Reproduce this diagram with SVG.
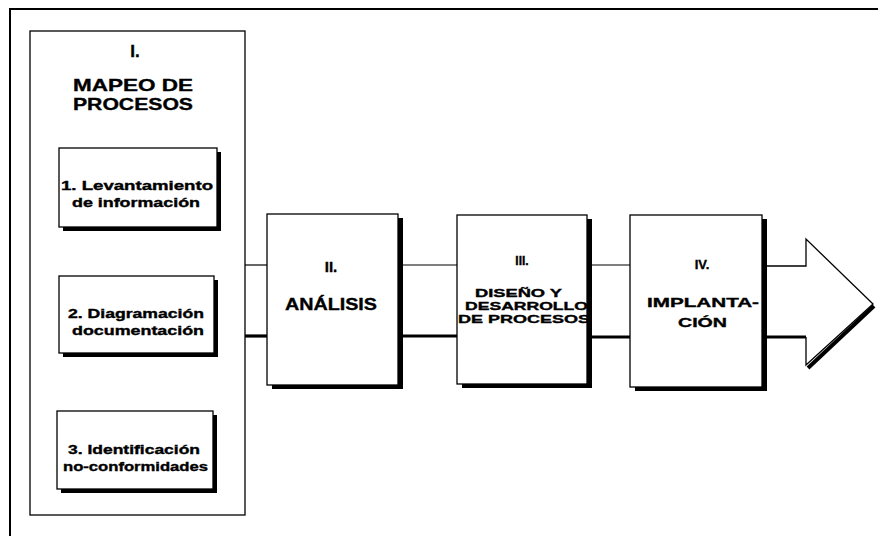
<svg xmlns="http://www.w3.org/2000/svg" width="878" height="536" viewBox="0 0 878 536">
<style>
.box{fill:#fff;stroke:#000;stroke-width:1.3}
.sh{fill:#000}
.t{font-family:"Liberation Sans",Arial,sans-serif;font-weight:bold;fill:#000;stroke:#000;stroke-width:0.35}
.thin{stroke:#000;stroke-width:1.2;fill:none}
.thick{stroke:#000;stroke-width:3.2;fill:none}
</style>
<rect width="878" height="536" fill="#fff"/>
<path d="M10,536 V9 H878" fill="none" stroke="#000" stroke-width="2"/>

<g id="connectors">
  <line class="thin" x1="245" y1="265" x2="267" y2="265"/>
  <line class="thin" x1="403" y1="265" x2="457" y2="265"/>
  <line class="thin" x1="592" y1="265" x2="630" y2="265"/>
  <line class="thick" x1="245" y1="336" x2="267" y2="336"/>
  <line class="thick" x1="403" y1="336" x2="457" y2="336"/>
  <line class="thick" x1="592" y1="337" x2="630" y2="337"/>
  <g id="arrow-head">
    <line x1="874" y1="306" x2="808" y2="368" stroke="#000" stroke-width="4"/>
    <path d="M767,266 H806 V239 L873,304 L806,365 V337" fill="#fff" stroke="#000" stroke-width="1.3"/>
    <line class="thick" x1="767" y1="337" x2="806" y2="337"/>
  </g>
</g>

<g id="node-I">
  <rect class="box" x="30" y="31" width="215" height="484"/>
  <text class="t" x="135" y="57" font-size="17" text-anchor="middle">I.</text>
  <text class="t" x="73" y="91" font-size="16.5" textLength="120" lengthAdjust="spacingAndGlyphs">MAPEO DE</text>
  <text class="t" x="73" y="110" font-size="16.5" textLength="120" lengthAdjust="spacingAndGlyphs">PROCESOS</text>
</g>

<g id="node-1">
  <rect class="sh" x="63" y="152" width="158" height="79"/>
  <rect class="box" x="59" y="148" width="158" height="79"/>
  <text class="t" x="61" y="190" font-size="12" textLength="152" lengthAdjust="spacingAndGlyphs">1. Levantamiento</text>
  <text class="t" x="72" y="207" font-size="12" textLength="128" lengthAdjust="spacingAndGlyphs">de información</text>
</g>

<g id="node-2">
  <rect class="sh" x="63" y="280" width="155" height="77"/>
  <rect class="box" x="59" y="276" width="155" height="77"/>
  <text class="t" x="68" y="318" font-size="12" textLength="136" lengthAdjust="spacingAndGlyphs">2. Diagramación</text>
  <text class="t" x="72" y="335" font-size="12" textLength="132" lengthAdjust="spacingAndGlyphs">documentación</text>
</g>

<g id="node-3">
  <rect class="sh" x="61" y="415" width="156" height="78"/>
  <rect class="box" x="57" y="411" width="156" height="78"/>
  <text class="t" x="68" y="454" font-size="12" textLength="132" lengthAdjust="spacingAndGlyphs">3. Identificación</text>
  <text class="t" x="63" y="471" font-size="12" textLength="145" lengthAdjust="spacingAndGlyphs">no-conformidades</text>
</g>

<g id="node-II">
  <rect class="sh" x="272" y="218" width="131" height="171"/>
  <rect class="box" x="267" y="214" width="131" height="171"/>
  <text class="t" x="331" y="272" font-size="15" text-anchor="middle">II.</text>
  <text class="t" x="285" y="310" font-size="16" textLength="92" lengthAdjust="spacingAndGlyphs">ANÁLISIS</text>
</g>

<g id="node-III">
  <rect class="sh" x="462" y="219" width="130" height="169"/>
  <rect class="box" x="457" y="215" width="130" height="169"/>
  <text class="t" x="522" y="265" font-size="12" text-anchor="middle">III.</text>
  <text class="t" x="475" y="297" font-size="11.5" textLength="87" lengthAdjust="spacingAndGlyphs">DISEÑO Y</text>
  <text class="t" x="465" y="310" font-size="11.5" textLength="123" lengthAdjust="spacingAndGlyphs">DESARROLLO</text>
  <text class="t" x="458" y="323" font-size="11.5" textLength="132" lengthAdjust="spacingAndGlyphs">DE PROCESOS</text>
  <line x1="589.5" y1="219" x2="589.5" y2="388" stroke="#000" stroke-width="5"/>
</g>

<g id="node-IV">
  <rect class="sh" x="635" y="219" width="132" height="172"/>
  <rect class="box" x="630" y="215" width="132" height="172"/>
  <text class="t" x="702" y="269" font-size="13" text-anchor="middle">IV.</text>
  <text class="t" x="647" y="307" font-size="13" textLength="112" lengthAdjust="spacingAndGlyphs">IMPLANTA-</text>
  <text class="t" x="678" y="327" font-size="13" textLength="49" lengthAdjust="spacingAndGlyphs">CIÓN</text>
</g>
</svg>
